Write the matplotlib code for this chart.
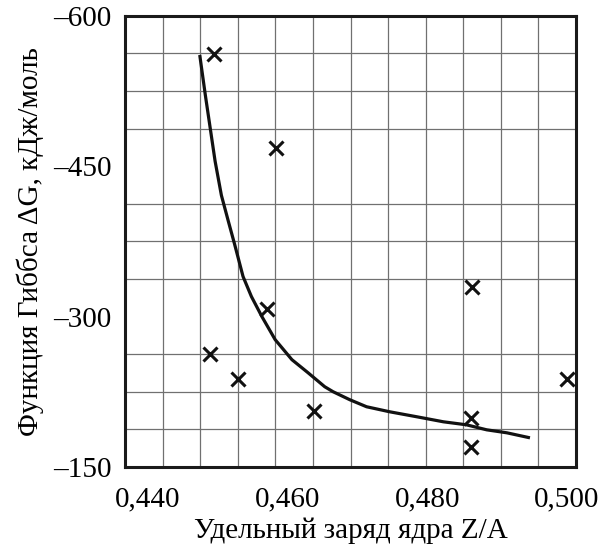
import numpy as np
import matplotlib
matplotlib.use('Agg')
import matplotlib.pyplot as plt
from matplotlib.ticker import FixedLocator, FuncFormatter

plt.rcParams['font.family'] = ['Liberation Serif', 'DejaVu Serif']

# scatter points (Z/A, dG kJ/mol)
za_pts = [0.4495, 0.4583, 0.4864, 0.4570, 0.4489, 0.4529, 0.5000, 0.4637, 0.4862, 0.4862]
dg_pts = [-562, -468, -329, -308, -263, -238, -238, -206, -199, -170]

# fitted curve
za_curve = [0.4474, 0.4482, 0.4489, 0.4496, 0.4505, 0.4515, 0.4524, 0.4536,
            0.4548, 0.4563, 0.4582, 0.4606, 0.4629, 0.4653, 0.4665, 0.4689,
            0.4713, 0.4746, 0.4785, 0.4823, 0.4856, 0.4885, 0.4914, 0.4947]
dg_curve = [-561, -521, -488, -455, -421, -395, -372, -340,
            -320, -300, -277, -257, -244, -230, -225, -217,
            -210, -205, -200, -195, -192, -187, -184, -179]

x_ticks = [0.440, 0.460, 0.480, 0.500]
y_ticks = [-600, -450, -300, -150]

xlim = (0.4367, 0.5013)
ylim = (-150, -600)

fig = plt.figure(figsize=(6.07, 5.48), dpi=100)
ax = fig.add_axes([0.206, 0.148, 0.743, 0.823])

ax.plot(za_curve, dg_curve, color='#111111', lw=2.3, zorder=3,
        solid_joinstyle='round', solid_capstyle='butt')
ax.plot(za_pts, dg_pts, ls='none', marker='x', ms=10, mew=2.2,
        color='#111111', zorder=4)

ax.set_xlim(xlim)
ax.set_ylim(ylim)

ax.xaxis.set_major_locator(FixedLocator(x_ticks))
ax.yaxis.set_major_locator(FixedLocator(y_ticks))
ax.xaxis.set_minor_locator(FixedLocator(np.linspace(xlim[0], xlim[1], 13)))
ax.yaxis.set_minor_locator(FixedLocator(np.linspace(ylim[0], ylim[1], 13)))
ax.xaxis.set_major_formatter(FuncFormatter(lambda v, p: ('%.3f' % v).replace('.', ',')))
ax.yaxis.set_major_formatter(FuncFormatter(lambda v, p: ('%d' % v).replace('-', '\u2013')))

ax.grid(which='minor', color='#707070', lw=0.9)
ax.grid(which='major', visible=False)
ax.tick_params(which='both', length=0, labelsize=21)
ax.tick_params(axis='x', pad=14)
ax.tick_params(axis='y', pad=10)

for s in ax.spines.values():
    s.set_linewidth(2.2)
    s.set_color('#1a1a1a')

ax.set_xlabel('Удельный заряд ядра Z/A', fontsize=21, labelpad=4)
ax.set_ylabel('Функция Гиббса \u0394G, кДж/моль', fontsize=21, labelpad=6)

fig.savefig('out.png', dpi=100)
